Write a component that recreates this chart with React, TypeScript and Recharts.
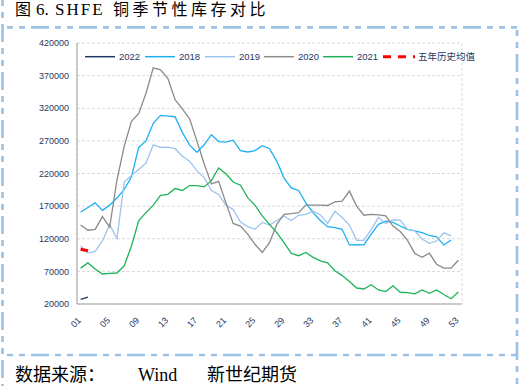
import { LineChart, Line, XAxis, YAxis, CartesianGrid } from "recharts";

const weeks = Array.from({ length: 53 }, (_, i) => i + 1);

const s2018 = [
  161000, 168000, 175000, 163500, 171500, 182500, 195500, 215000, 260000, 270000,
  297000, 309000, 308000, 307000, 283000, 263500, 252500, 264000, 279500, 269000,
  268000, 271000, 255000, 253000, 255000, 262500, 258000, 239000, 213000, 198000,
  194000, 175000, 160000, 148000, 138500, 137000, 134500, 110500, 111000, 110500,
  127000, 142000, 147000, 145000, 139500, 134500, 132000, 129500, 125000, 123000,
  110500, 118000, null,
];
const s2019 = [
  109000, 98000, 100500, 116500, 142000, 120000, 207000, 217000, 226000, 236000,
  264000, 260000, 260500, 258000, 246500, 239000, 224000, 214000, 194000, 188000,
  171500, 165000, 145500, 138500, 134500, 145000, 141000, 148000, 155000, 148000,
  156000, 157500, 162500, 156500, 143500, 162000, 152500, 141000, 117500, 117500,
  134500, 152500, 143500, 149000, 148500, 134500, 132000, 119500, 113000, 116500,
  129000, 124500, null,
];
const s2020 = [
  141000, 133000, 134500, 154000, 138000, 210000, 262000, 300000, 312000, 343000,
  382000, 379000, 366000, 333000, 319000, 304000, 270000, 235000, 204000, 208000,
  175000, 143500, 139500, 127000, 111500, 99000, 114000, 142000, 157500, 158500,
  160000, 171500, 171500, 171500, 171000, 176500, 177500, 193000, 170000, 156000,
  157500, 156500, 155000, 139500, 131000, 117500, 97500, 91500, 98000, 81000,
  75000, 75000, 87000,
];
const s2021 = [
  75000, 83000, 73500, 66000, 67000, 67500, 78500, 109000, 148000, 160000,
  171500, 186500, 188000, 197000, 194000, 201500, 201500, 199500, 209000, 228500,
  219500, 207000, 202000, 183000, 171500, 155000, 142000, 129500, 114000, 97500,
  94000, 99000, 91500, 86000, 83000, 71000, 63500, 54500, 44500, 43000,
  49500, 41500, 39000, 48000, 38000, 37500, 35500, 41500, 36500, 41500,
  34500, 28000, 38500,
];
const s2022 = [27000, 30500];
const avg5 = [104000, 101500];

const yTicks = [20000, 70000, 120000, 170000, 220000, 270000, 320000, 370000, 420000];
const xLabels = [1, 5, 9, 13, 17, 21, 25, 29, 33, 37, 41, 45, 49, 53];
const xBounds = [4.5, 8.5, 12.5, 16.5, 20.5, 24.5, 28.5, 32.5, 36.5, 40.5, 44.5, 48.5, 52.5];

const legendItems = [
  { name: "2022", color: "#1f3864", left: 85 },
  { name: "2018", color: "#1cb0f0", left: 145 },
  { name: "2019", color: "#9cc3ee", left: 205 },
  { name: "2020", color: "#8a8a8a", left: 264 },
  { name: "2021", color: "#1fb35a", left: 323 },
];

const data = weeks.map((w, i) => ({
  week: w,
  y2018: s2018[i] ?? null,
  y2019: s2019[i] ?? null,
  y2020: s2020[i] ?? null,
  y2021: s2021[i] ?? null,
  y2022: s2022[i] ?? null,
  avg: avg5[i] ?? null,
}));

const NAVY = "#1f3864";
const SANS = "'Liberation Sans', Arial, sans-serif";
const SERIF = "'Liberation Serif', 'Noto Sans CJK SC', serif";
const BORDER = "#9dc3e6";

function XTick(props: any) {
  const { x, y, payload } = props;
  const label = String(payload.value).padStart(2, "0");
  const ax = x + 1;
  const ay = y + 17;
  return (
    <text
      x={ax}
      y={ay}
      transform={`rotate(-45, ${ax}, ${ay})`}
      textAnchor="end"
      fontSize={9}
      fontFamily={SANS}
      fill={NAVY}
    >
      {label}
    </text>
  );
}

export default function App() {
  return (
    <div style={{ position: "fixed", left: 0, top: 0, width: 521, height: 386, background: "#fff" }}>
      <LineChart width={521} height={386} data={data} margin={{ top: 43, right: 59, bottom: 52, left: 17 }}>
        <XAxis
          xAxisId="grid"
          dataKey="week"
          type="number"
          domain={[0.5, 53.5]}
          ticks={xBounds}
          interval={0}
          tick={false}
          axisLine={false}
          tickLine={{ stroke: "#a0a0a0" }}
          tickSize={4}
          mirror
          height={0}
        />
        <XAxis
          dataKey="week"
          type="number"
          domain={[0.5, 53.5]}
          ticks={xLabels}
          interval={0}
          tick={<XTick />}
          tickLine={false}
          tickSize={0}
          tickMargin={0}
          axisLine={{ stroke: "#a0a0a0" }}
          height={30}
        />
        <YAxis
          type="number"
          domain={[20000, 420000]}
          ticks={yTicks}
          interval={0}
          width={60}
          tickLine={false}
          tickSize={0}
          tickMargin={8}
          axisLine={{ stroke: "#a0a0a0" }}
          tick={{ fill: NAVY, fontSize: 9, fontFamily: SANS }}
        />
        <CartesianGrid xAxisId="grid" stroke="#d9d9d9" strokeDasharray="3 2" />
        <Line dataKey="y2022" stroke={legendItems[0].color} strokeWidth={1.3} dot={false} isAnimationActive={false} />
        <Line dataKey="y2018" stroke={legendItems[1].color} strokeWidth={1.3} dot={false} isAnimationActive={false} />
        <Line dataKey="y2019" stroke={legendItems[2].color} strokeWidth={1.3} dot={false} isAnimationActive={false} />
        <Line dataKey="y2020" stroke={legendItems[3].color} strokeWidth={1.3} dot={false} isAnimationActive={false} />
        <Line dataKey="y2021" stroke={legendItems[4].color} strokeWidth={1.3} dot={false} isAnimationActive={false} />
        <Line dataKey="avg" stroke="#ff0000" strokeWidth={3} strokeDasharray="8 4" dot={false} isAnimationActive={false} />
      </LineChart>

      <svg width={521} height={386} style={{ position: "absolute", left: 0, top: 0, pointerEvents: "none" }}>
        {/* frame */}
        <g stroke={BORDER} strokeWidth={2.7} fill="none" strokeDasharray="6 6 6 6 18 6">
          <line x1={7} y1={27.3} x2={517} y2={27.3} />
          <line x1={7} y1={355} x2={517} y2={355} />
          <line x1={2.5} y1={0} x2={2.5} y2={386} />
          <line x1={517} y1={30} x2={517} y2={386} />
        </g>

        <text x={15} y={15} fontSize={16} fontFamily={SERIF} fill="#000">图</text>
        <text x={36} y={15} fontSize={17} fontFamily={SERIF} fill="#000">6.</text>
        <text x={55} y={15} fontSize={17} fontFamily={SERIF} letterSpacing={2} fill="#000">SHFE</text>
        <text x={113} y={15} fontSize={16} fontFamily={SERIF} letterSpacing={3.5} fill="#000">
          铜季节性库存对比
        </text>

        {/* legend */}
        {legendItems.map((it) => (
          <g key={it.name}>
            <line x1={it.left} y1={56.7} x2={it.left + 30} y2={56.7} stroke={it.color} strokeWidth={1.5} />
            <text x={it.left + 34} y={60} fontSize={9.5} fontFamily={SANS} fill={NAVY}>
              {it.name}
            </text>
          </g>
        ))}
        <line x1={383} y1={56.7} x2={415} y2={56.7} stroke="#ff0000" strokeWidth={3} strokeDasharray="8 7" />
        <text x={418} y={60} fontSize={9.5} fontFamily="'Noto Sans CJK SC', sans-serif" fill={NAVY}>
          五年历史均值
        </text>

        <text x={15} y={381} fontSize={18} fontFamily={SERIF} fill="#000">
          数据来源：
        </text>
        <text x={138} y={381} fontSize={18} fontFamily={SERIF} fill="#000">
          Wind
        </text>
        <text x={207} y={381} fontSize={18} fontFamily={SERIF} fill="#000">
          新世纪期货
        </text>
      </svg>
    </div>
  );
}
